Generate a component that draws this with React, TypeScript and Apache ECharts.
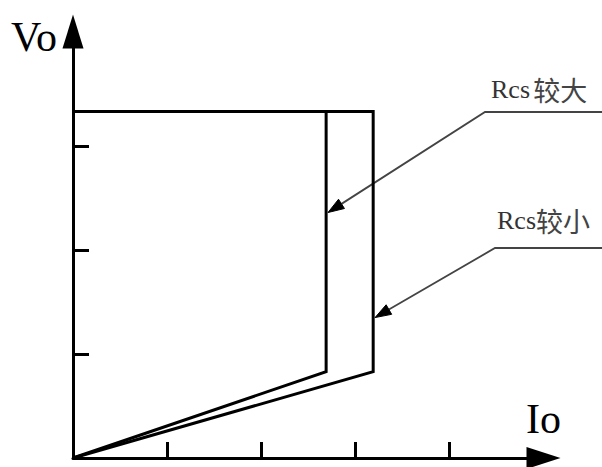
import React, { useEffect, useRef } from "react";
import * as echarts from "echarts";

// Curve data (Io, Vo) in axis units
const largeRcsIo = [0, 2.69, 2.69, 0];
const largeRcsVo = [0, 0.83, 3.33, 3.33];
const smallRcsIo = [0, 3.19, 3.19, 0];
const smallRcsVo = [0, 0.83, 3.33, 3.33];

// Axis ticks
const xTickValues = [1, 2, 3, 4];
const yTickValues = [1, 2, 3];

// Axis names
const xName = "Io";
const yName = "Vo";

// Annotations: label parts and arrow target (in data units)
const annotationRs = ["Rcs", "Rcs"];
const annotationCn = ["较大", "较小"];
const annotationGap = [" ", ""];
const annotationTargetIo = [2.71, 3.21];
const annotationTargetVo = [2.36, 1.35];

const zip = (xs: number[], ys: number[]) => xs.map((x, i) => [x, ys[i]]);

export default function App() {
  const ref = useRef<HTMLDivElement>(null);

  useEffect(() => {
    if (!ref.current) return;
    const chart = echarts.init(ref.current, null, { renderer: "svg" });

    const axisCommon = {
      type: "value" as const,
      splitLine: { show: false },
      axisLabel: { show: false },
      axisLine: {
        show: true,
        onZero: false,
        symbol: ["none", "triangle"],
        lineStyle: { color: "#000", width: 3 },
      },
      axisTick: {
        show: true,
        inside: true,
        length: 16,
        lineStyle: { color: "#000", width: 3 },
      },
    };

    chart.setOption({
      animation: false,
      backgroundColor: "#fff",
      grid: {
        left: 73,
        top: 31.5,
        right: 58.5,
        bottom: 9,
        containLabel: false,
        outerBoundsMode: "none",
      },
      xAxis: {
        ...axisCommon,
        min: 0,
        max: 5,
        interval: 1,
        axisLine: { ...axisCommon.axisLine, symbolSize: [22, 34] },
        axisTick: { ...axisCommon.axisTick, customValues: xTickValues },
      },
      yAxis: {
        ...axisCommon,
        min: 0,
        max: 4.1,
        interval: 1,
        axisLine: { ...axisCommon.axisLine, symbolSize: [21, 34] },
        axisTick: { ...axisCommon.axisTick, customValues: yTickValues },
      },
      series: [
        {
          name: "Rcs较大",
          type: "line",
          data: zip(largeRcsIo, largeRcsVo),
          showSymbol: false,
          symbol: "none",
          clip: false,
          lineStyle: { color: "#000", width: 3, join: "miter" },
        },
        {
          name: "Rcs较小",
          type: "line",
          data: zip(smallRcsIo, smallRcsVo),
          showSymbol: false,
          symbol: "none",
          clip: false,
          lineStyle: { color: "#000", width: 3, join: "miter" },
        },
      ],
    });

    // Layout for annotation labels (pixels)
    const labelPos = [
      { x: 491, y: 89, lineStartX: 485, lineY: 112 },
      { x: 497, y: 220, lineStartX: 495, lineY: 248 },
    ];

    const graphics: any[] = [
      {
        type: "text",
        left: 11,
        top: 16,
        style: {
          text: yName,
          font: "42px 'Liberation Serif'",
          fill: "#000",
        },
      },
      {
        type: "text",
        left: 526,
        top: 398,
        style: {
          text: xName,
          font: "42px 'Liberation Serif'",
          fill: "#000",
        },
      },
    ];

    annotationRs.forEach((rs, i) => {
      const tip = chart.convertToPixel({ gridIndex: 0 }, [
        annotationTargetIo[i],
        annotationTargetVo[i],
      ]) as number[];
      const p = labelPos[i];
      const dx = tip[0] - p.lineStartX;
      const dy = tip[1] - p.lineY;
      const len = Math.sqrt(dx * dx + dy * dy);
      const ux = dx / len;
      const uy = dy / len;
      const nx = -uy;
      const ny = ux;
      const headLen = 16;
      const headW = 5.5;
      const bx = tip[0] - ux * headLen;
      const by = tip[1] - uy * headLen;

      graphics.push({
        type: "text",
        x: p.x,
        y: p.y,
        style: {
          text: `{r|${rs}}${annotationGap[i]}{c|${annotationCn[i]}}`,
          verticalAlign: "middle",
          align: "left",
          rich: {
            r: {
              fontFamily: "'Liberation Serif'",
              fontSize: 26,
              fill: "#333",
            },
            c: {
              fontFamily: "'Noto Sans CJK SC'",
              fontSize: 27,
              fill: "#444",
            },
          },
        },
      });
      graphics.push({
        type: "polyline",
        shape: {
          points: [
            [602, p.lineY],
            [p.lineStartX, p.lineY],
            [bx, by],
          ],
        },
        style: { stroke: "#444", lineWidth: 1.8, fill: null },
      });
      graphics.push({
        type: "polygon",
        shape: {
          points: [
            [tip[0], tip[1]],
            [bx + nx * headW, by + ny * headW],
            [bx - nx * headW, by - ny * headW],
          ],
        },
        style: { fill: "#000", stroke: "#000", lineWidth: 1 },
      });
    });

    chart.setOption({ graphic: graphics });

    return () => chart.dispose();
  }, []);

  return (
    <div
      ref={ref}
      style={{ position: "fixed", left: 0, top: 0, width: 602, height: 467 }}
    />
  );
}
